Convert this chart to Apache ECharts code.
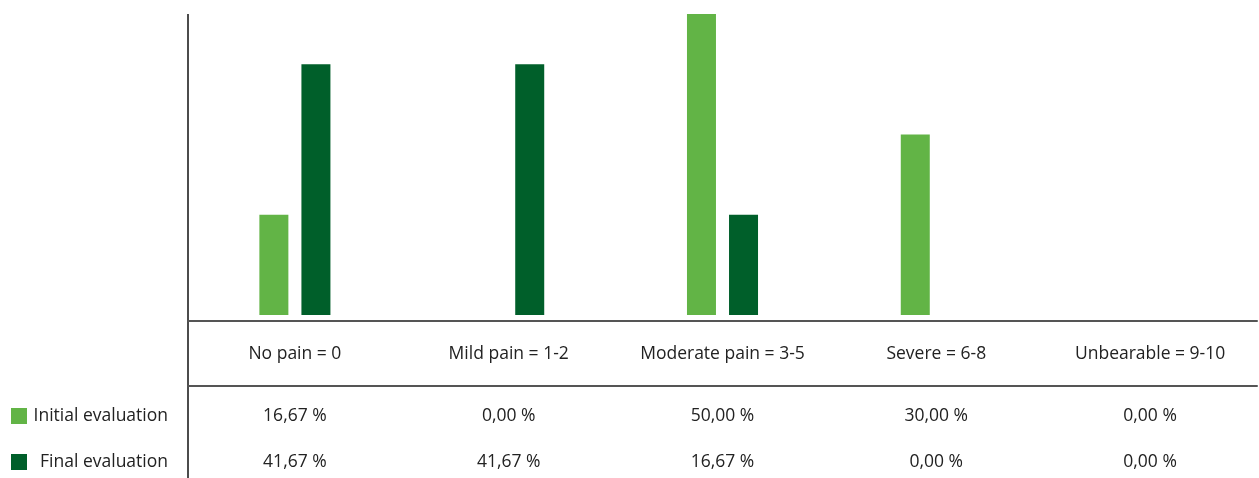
<!DOCTYPE html>
<html>
<head>
<meta charset="utf-8">
<style>
  html, body { margin: 0; padding: 0; background: #fff; }
  #chart { width: 1259px; height: 478px; }
</style>
<script src="https://cdn.jsdelivr.net/npm/echarts@6/dist/echarts.min.js"></script>
</head>
<body>
<div id="chart"></div>
<script>
// Pain scale categories and share of patients (%) at each evaluation
const categories = ['No pain = 0', 'Mild pain = 1-2', 'Moderate pain = 3-5', 'Severe = 6-8', 'Unbearable = 9-10'];
const initialEvaluation = [16.67, 0.00, 50.00, 30.00, 0.00];
const finalEvaluation = [41.67, 41.67, 16.67, 0.00, 0.00];
const seriesNames = ['Initial evaluation', 'Final evaluation'];

const LIGHT = '#62b446';
const DARK = '#005f2a';
const FONT = '"Open Sans", "Noto Sans", sans-serif';
const TEXT = '#222';
const SIZE = 17.5;

// European style percentage: 16,67 %
const pct = v => v.toFixed(2).replace('.', ',') + ' %';

const chart = echarts.init(document.getElementById('chart'), null, { renderer: 'canvas' });

const baseAxis = {
  type: 'category',
  position: 'bottom',
  data: categories,
  axisTick: { show: false },
  splitLine: { show: false }
};

// one legend entry per table row, name right-aligned against the divider
const legendRow = (name, top) => ({
  orient: 'vertical',
  left: 6,
  top: top,
  itemWidth: 16,
  itemHeight: 16,
  itemGap: 0,
  icon: 'rect',
  selectedMode: false,
  data: [name],
  formatter: n => '{r|' + n + '}',
  textStyle: {
    fontFamily: FONT, fontSize: SIZE, color: TEXT,
    rich: { r: { width: 136, align: 'right', fontFamily: FONT, fontSize: SIZE, color: TEXT } }
  }
});

chart.setOption({
  animation: false,
  textStyle: { fontFamily: FONT },
  grid: { left: 188, right: 2, top: 14, bottom: 163 },
  legend: [
    legendRow(seriesNames[0], 402),
    legendRow(seriesNames[1], 448)
  ],
  xAxis: [
    Object.assign({}, baseAxis, {
      offset: 6,
      axisLine: { show: true, onZero: false, lineStyle: { color: '#555', width: 2 } },
      axisLabel: {
        interval: 0, margin: 33, verticalAlign: 'middle',
        fontFamily: FONT, fontSize: SIZE, color: TEXT
      }
    }),
    Object.assign({}, baseAxis, {
      offset: 71,
      axisLine: { show: true, onZero: false, lineStyle: { color: '#555', width: 2 } },
      axisLabel: {
        interval: 0, margin: 30, verticalAlign: 'middle',
        fontFamily: FONT, fontSize: SIZE, color: TEXT,
        formatter: (v, i) => pct(initialEvaluation[i])
      }
    }),
    Object.assign({}, baseAxis, {
      offset: 71,
      axisLine: { show: false },
      axisLabel: {
        interval: 0, margin: 76, verticalAlign: 'middle',
        fontFamily: FONT, fontSize: SIZE, color: TEXT,
        formatter: (v, i) => pct(finalEvaluation[i])
      }
    })
  ],
  yAxis: {
    type: 'value',
    min: 0,
    max: 50,
    axisLine: { show: false },
    axisTick: { show: false },
    axisLabel: { show: false },
    splitLine: { show: false }
  },
  series: [
    {
      name: seriesNames[0],
      type: 'bar',
      data: initialEvaluation,
      barWidth: 29,
      barGap: '45%',
      itemStyle: { color: LIGHT }
    },
    {
      name: seriesNames[1],
      type: 'bar',
      data: finalEvaluation,
      barWidth: 29,
      barGap: '45%',
      itemStyle: { color: DARK }
    }
  ],
  graphic: [
    {
      // vertical divider between the legend column and the plot / table
      type: 'line',
      shape: { x1: 188, y1: 14, x2: 188, y2: 478 },
      style: { stroke: '#111', lineWidth: 1.5 },
      silent: true
    }
  ]
});
</script>
</body>
</html>
